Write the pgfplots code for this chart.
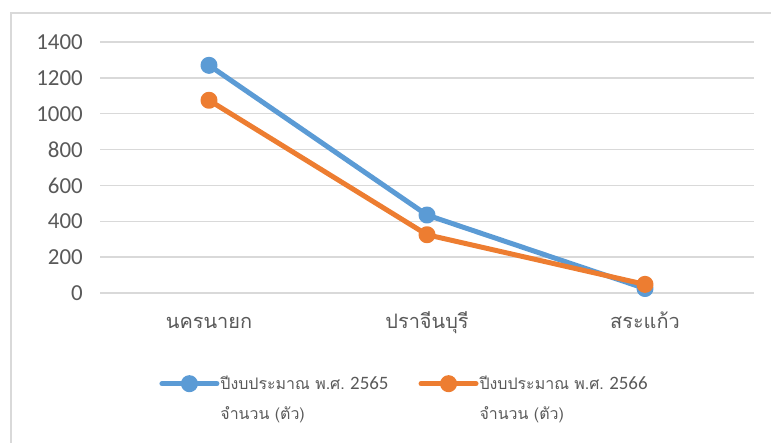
\documentclass[border=0pt]{standalone}
\usepackage{pgfplots}
\pgfplotsset{compat=1.18}
\usepackage{fontspec}
\setmainfont{Carlito}
\newfontfamily\thai[Script=Thai]{Loma}
\definecolor{xlblue}{HTML}{5B9BD5}
\definecolor{xlorange}{HTML}{ED7D31}
\definecolor{xlgrid}{HTML}{D9D9D9}
\definecolor{xltext}{HTML}{595959}

\begin{document}
\begin{tikzpicture}
\useasboundingbox (0,0) rectangle (771bp,443bp);
\draw[xlgrid, line width=1.5bp] (11bp,0) -- (11bp,430bp) -- (771bp,430bp);
\begin{axis}[
    at={(100bp,150bp)}, anchor=south west,
    scale only axis, width=654bp, height=251bp,
    xmin=-0.5, xmax=2.5, ymin=0, ymax=1400,
    xtick={0,1,2},
    xticklabels={นครนายก,ปราจีนบุรี,สระแก้ว},
    ytick={0,200,...,1400},
    axis line style={draw=none},
    tick style={draw=none},
    ymajorgrids=true,
    grid style={xlgrid, line width=1.5bp},
    /pgf/number format/assume math mode=true,
    /pgf/number format/1000 sep={},
    yticklabel style={font=\fontsize{23}{27}\selectfont, text=xltext, inner sep=0pt, xshift=-17bp},
    xticklabel style={font=\thai\fontsize{20}{22}\selectfont, text=xltext, inner sep=0pt, anchor=base, yshift=-35bp},
    clip=false,
    legend columns=2,
    legend cell align=left,
    legend image code/.code={\draw[mark repeat=2, mark phase=2, #1] plot coordinates {(0bp,15bp) (27.5bp,15bp) (55bp,15bp)};},
    legend style={at={(0.086,-0.315)}, anchor=north west, draw=none, fill=none,
        column sep=0bp,
        /tikz/every even column/.append style={column sep=29bp},
        nodes={align=left, text=xltext, inner xsep=1bp, font=\thai\fontsize{16}{30}\selectfont}},
]
\addplot[color=xlblue, line width=5bp, line cap=round, line join=round, mark=*, mark size=6bp]
    coordinates {(0,1270) (1,435) (2,25)};
\addlegendentry{ปีงบประมาณ พ.ศ.~{\rmfamily\fontsize{19}{30}\selectfont 2565}\\จำนวน (ตัว)}
\addplot[color=xlorange, line width=5bp, line cap=round, line join=round, mark=*, mark size=6bp]
    coordinates {(0,1075) (1,325) (2,48)};
\addlegendentry{ปีงบประมาณ พ.ศ.~{\rmfamily\fontsize{19}{30}\selectfont 2566}\\จำนวน (ตัว)}
\end{axis}
\end{tikzpicture}
\end{document}
